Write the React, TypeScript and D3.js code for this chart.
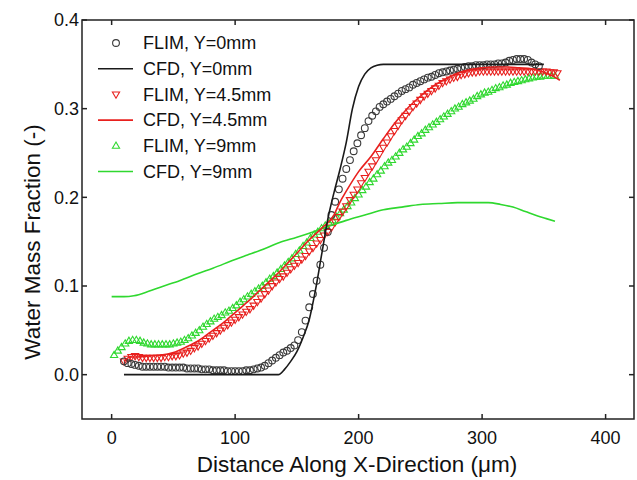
import React from "react";
import * as d3 from "d3";

// ---- Data (x in µm, y water mass fraction) ----
const FLIM_Y0: [number, number][] = [
  [10, .015], [13, .013], [16, .012], [19, .011], [22, .010], [25, .009], [28, .009], [31, .009], [34, .009],
  [37, .009], [40, .009], [43, .009], [46, .008], [49, .008], [52, .008], [55, .008], [58, .008], [61, .007],
  [64, .007], [67, .007], [70, .007], [73, .006], [76, .006], [79, .006], [82, .005], [85, .005], [88, .005],
  [91, .005], [94, .004], [97, .004], [100, .004], [103, .004], [106, .004], [109, .005], [112, .005], [115, .006],
  [118, .007], [121, .008], [124, .010], [127, .013], [130, .016], [133, .019], [136, .022], [139, .025], [142, .027],
  [145, .030], [148, .033], [151, .039], [154, .048], [157, .061], [160, .076], [163, .091], [166, .106], [169, .124],
  [172, .143], [175, .161], [178, .180], [181, .195], [184, .209], [187, .221], [190, .232], [193, .242], [196, .252],
  [199, .261], [202, .270], [205, .278], [208, .286], [211, .292], [214, .297], [217, .302], [220, .305], [223, .308],
  [226, .311], [229, .314], [232, .317], [235, .320], [238, .322], [241, .324], [244, .327], [247, .329], [250, .331],
  [253, .333], [256, .335], [259, .336], [262, .338], [265, .340], [268, .341], [271, .342], [274, .343], [277, .344],
  [280, .345], [283, .346], [286, .347], [289, .348], [292, .348], [295, .349], [298, .349], [301, .349], [304, .350],
  [307, .350], [310, .350], [313, .351], [316, .351], [319, .352], [322, .354], [325, .355], [328, .356], [331, .356],
  [334, .356], [337, .355], [340, .352], [343, .350], [346, .348],
];

const CFD_Y0: [number, number][] = [
  [10, 0], [135, 0], [140, 0.006], [145, 0.015], [150, 0.026], [155, 0.042], [160, 0.062], [165, 0.095],
  [170, 0.135], [175, 0.175], [180, 0.205], [185, 0.232], [190, 0.262], [195, 0.300], [200, 0.325],
  [205, 0.339], [210, 0.346], [215, 0.349], [220, 0.350], [350, 0.350],
];

const FLIM_Y45: [number, number][] = [
  [10, .015], [13, .018], [16, .020], [19, .021], [22, .020], [25, .019], [28, .019], [31, .019], [34, .019],
  [37, .019], [40, .019], [43, .020], [46, .020], [49, .021], [52, .021], [55, .022], [58, .024], [61, .025],
  [64, .027], [67, .030], [70, .032], [73, .035], [76, .038], [79, .041], [82, .044], [85, .047], [88, .050],
  [91, .053], [94, .056], [97, .059], [100, .062], [103, .065], [106, .068], [109, .071], [112, .074], [115, .078],
  [118, .082], [121, .086], [124, .091], [127, .095], [130, .100], [133, .104], [136, .108], [139, .111], [142, .115],
  [145, .119], [148, .123], [151, .126], [154, .130], [157, .134], [160, .139], [163, .143], [166, .148], [169, .152],
  [172, .157], [175, .161], [178, .166], [181, .172], [184, .178], [187, .184], [190, .190], [193, .197], [196, .203],
  [199, .209], [202, .216], [205, .222], [208, .229], [211, .235], [214, .242], [217, .249], [220, .256], [223, .262],
  [226, .269], [229, .275], [232, .281], [235, .287], [238, .292], [241, .297], [244, .302], [247, .306], [250, .310],
  [253, .314], [256, .317], [259, .320], [262, .323], [265, .326], [268, .329], [271, .331], [274, .333], [277, .335],
  [280, .336], [283, .338], [286, .339], [289, .340], [292, .341], [295, .341], [298, .342], [301, .342], [304, .342],
  [307, .342], [310, .342], [313, .342], [316, .342], [319, .342], [322, .342], [325, .342], [328, .342], [331, .342],
  [334, .342], [337, .342], [340, .342], [343, .342], [346, .342], [349, .342], [352, .342], [355, .341], [358, .341],
  [361, .340],
];

const CFD_Y45: [number, number][] = [
  [10, 0.015], [15, 0.020], [20, 0.020], [30, 0.021], [40, 0.022], [50, 0.025], [60, 0.031], [70, 0.038],
  [80, 0.048], [90, 0.058], [100, 0.070], [110, 0.082], [120, 0.095], [130, 0.108], [140, 0.122], [150, 0.137],
  [160, 0.152], [170, 0.165], [180, 0.180], [185, 0.195], [190, 0.207], [200, 0.229], [210, 0.246], [220, 0.266],
  [230, 0.285], [240, 0.301], [250, 0.314], [260, 0.325], [270, 0.333], [280, 0.340], [290, 0.344], [300, 0.346],
  [310, 0.347], [320, 0.347], [330, 0.346], [340, 0.345], [350, 0.341], [357, 0.337], [363, 0.332],
];

const FLIM_Y9: [number, number][] = [
  [2, .022], [5, .027], [8, .031], [11, .035], [14, .038], [17, .039], [20, .039], [23, .038], [26, .036],
  [29, .035], [32, .034], [35, .034], [38, .034], [41, .034], [44, .034], [47, .034], [50, .035], [53, .036],
  [56, .037], [59, .039], [62, .041], [65, .044], [68, .047], [71, .050], [74, .054], [77, .057], [80, .060],
  [83, .063], [86, .065], [89, .067], [92, .070], [95, .072], [98, .075], [101, .078], [104, .082], [107, .085],
  [110, .088], [113, .091], [116, .094], [119, .097], [122, .100], [125, .104], [128, .108], [131, .111], [134, .115],
  [137, .119], [140, .123], [143, .127], [146, .131], [149, .136], [152, .140], [155, .145], [158, .149], [161, .154],
  [164, .158], [167, .161], [170, .165], [173, .168], [176, .171], [179, .174], [182, .178], [185, .182], [188, .186],
  [191, .190], [194, .194], [197, .199], [200, .203], [203, .208], [206, .212], [209, .217], [212, .221], [215, .226],
  [218, .230], [221, .235], [224, .239], [227, .242], [230, .246], [233, .250], [236, .254], [239, .257], [242, .261],
  [245, .265], [248, .269], [251, .272], [254, .276], [257, .279], [260, .282], [263, .285], [266, .288], [269, .291],
  [272, .294], [275, .297], [278, .300], [281, .302], [284, .305], [287, .307], [290, .309], [293, .311], [296, .314],
  [299, .316], [302, .318], [305, .319], [308, .321], [311, .323], [314, .324], [317, .326], [320, .327], [323, .329],
  [326, .330], [329, .331], [332, .332], [335, .333], [338, .334], [341, .335], [344, .336], [347, .336], [350, .337],
  [353, .337], [356, .337], [359, .337],
];

const CFD_Y9: [number, number][] = [
  [0, 0.088], [10, 0.088], [18, 0.089], [30, 0.094], [40, 0.099], [55, 0.106], [70, 0.114], [82, 0.120],
  [100, 0.130], [110, 0.135], [120, 0.140], [136, 0.149], [150, 0.155], [163, 0.161], [175, 0.167], [190, 0.174],
  [205, 0.180], [220, 0.186], [235, 0.189], [250, 0.192], [265, 0.193], [280, 0.194], [295, 0.194], [305, 0.194],
  [315, 0.192], [325, 0.189], [335, 0.184], [345, 0.179], [352, 0.176], [359, 0.173],
];

const X_TICKS = [0, 100, 200, 300, 400];
const Y_TICKS = [0.0, 0.1, 0.2, 0.3, 0.4];
const LEGEND_LABELS = [
  "FLIM, Y=0mm",
  "CFD, Y=0mm",
  "FLIM, Y=4.5mm",
  "CFD, Y=4.5mm",
  "FLIM, Y=9mm",
  "CFD, Y=9mm",
];

// ---- Styles ----
const W = 637;
const H = 480;
const PLOT = { left: 82, right: 634, top: 20, bottom: 419 };
const BLACK = "#1a1a1a";
const GREY = "#3a3a3a";
const RED = "#e8201e";
const GREEN = "#2fd82f";
const FONT = "'Liberation Sans', Arial, Helvetica, sans-serif";

type MarkerKind = "circle" | "down" | "up";

function markerPath(kind: MarkerKind): string {
  if (kind === "down") return "M-3.6,-2.4L3.6,-2.4L0,3.8Z";
  if (kind === "up") return "M-3.6,2.4L3.6,2.4L0,-3.8Z";
  return "";
}

function Marker({ kind, x, y, color }: { kind: MarkerKind; x: number; y: number; color: string }) {
  if (kind === "circle")
    return <circle cx={x} cy={y} r={3.4} fill="none" stroke={color} strokeWidth={1.1} />;
  return (
    <path d={markerPath(kind)} transform={`translate(${x},${y})`} fill="none" stroke={color} strokeWidth={1.1} />
  );
}

export default function App() {
  const x = d3.scaleLinear().domain([-24, 423]).range([PLOT.left, PLOT.right]);
  const y = d3.scaleLinear().domain([-0.05, 0.4]).range([PLOT.bottom, PLOT.top]);
  const line = d3
    .line<[number, number]>()
    .x((d) => x(d[0]))
    .y((d) => y(d[1]))
    .curve(d3.curveMonotoneX);

  const scatter: { data: [number, number][]; kind: MarkerKind; color: string }[] = [
    { data: FLIM_Y9, kind: "up", color: GREEN },
    { data: FLIM_Y45, kind: "down", color: RED },
    { data: FLIM_Y0, kind: "circle", color: GREY },
  ];
  const lines: { data: [number, number][]; color: string }[] = [
    { data: CFD_Y9, color: GREEN },
    { data: CFD_Y45, color: RED },
    { data: CFD_Y0, color: BLACK },
  ];

  const legendItems: { type: "marker" | "line"; kind?: MarkerKind; color: string }[] = [
    { type: "marker", kind: "circle", color: GREY },
    { type: "line", color: BLACK },
    { type: "marker", kind: "down", color: RED },
    { type: "line", color: RED },
    { type: "marker", kind: "up", color: GREEN },
    { type: "line", color: GREEN },
  ];

  const TL = 5;

  return (
    <svg
      width={W}
      height={H}
      style={{ position: "absolute", left: 0, top: 0, background: "#fff" }}
      fontFamily={FONT}
    >
      <rect x={0} y={0} width={W} height={H} fill="#fff" />

      {/* data */}
      {scatter.map((s, i) => (
        <g key={"s" + i}>
          {s.data.map((d, j) => (
            <Marker key={j} kind={s.kind} x={x(d[0])} y={y(d[1])} color={s.color} />
          ))}
        </g>
      ))}
      {lines.map((l, i) => (
        <path key={"l" + i} d={line(l.data) || ""} fill="none" stroke={l.color} strokeWidth={1.6} />
      ))}

      {/* frame */}
      <rect
        x={PLOT.left}
        y={PLOT.top}
        width={PLOT.right - PLOT.left}
        height={PLOT.bottom - PLOT.top}
        fill="none"
        stroke="#222"
        strokeWidth={1.5}
      />

      {/* ticks */}
      {X_TICKS.map((t) => (
        <g key={"xt" + t}>
          <line x1={x(t)} x2={x(t)} y1={PLOT.bottom} y2={PLOT.bottom - TL} stroke="#222" strokeWidth={1.5} />
          <line x1={x(t)} x2={x(t)} y1={PLOT.top} y2={PLOT.top + TL} stroke="#222" strokeWidth={1.5} />
          <text x={x(t)} y={PLOT.bottom + 25} textAnchor="middle" fontSize={18} fill="#111">
            {d3.format("d")(t)}
          </text>
        </g>
      ))}
      {Y_TICKS.map((t) => (
        <g key={"yt" + t}>
          <line x1={PLOT.left} x2={PLOT.left + TL} y1={y(t)} y2={y(t)} stroke="#222" strokeWidth={1.5} />
          <line x1={PLOT.right} x2={PLOT.right - TL} y1={y(t)} y2={y(t)} stroke="#222" strokeWidth={1.5} />
          <text x={PLOT.left - 3} y={y(t)} dy="0.35em" textAnchor="end" fontSize={18} fill="#111">
            {d3.format(".1f")(t)}
          </text>
        </g>
      ))}

      {/* axis titles */}
      <text x={357} y={472} textAnchor="middle" fontSize={22.5} fill="#111">
        Distance Along X-Direction (μm)
      </text>
      <text
        transform={`translate(40,242) rotate(-90)`}
        textAnchor="middle"
        fontSize={22.5}
        fill="#111"
      >
        Water Mass Fraction (-)
      </text>

      {/* legend */}
      {LEGEND_LABELS.map((label, i) => {
        const ly = 43 + i * 25.7;
        const it = legendItems[i];
        return (
          <g key={"lg" + i}>
            {it.type === "line" ? (
              <line x1={98} x2={133} y1={ly} y2={ly} stroke={it.color} strokeWidth={1.6} />
            ) : (
              <Marker kind={it.kind as MarkerKind} x={116} y={ly} color={it.color} />
            )}
            <text x={143} y={ly} dy="0.35em" fontSize={18} fill="#111">
              {label}
            </text>
          </g>
        );
      })}
    </svg>
  );
}
